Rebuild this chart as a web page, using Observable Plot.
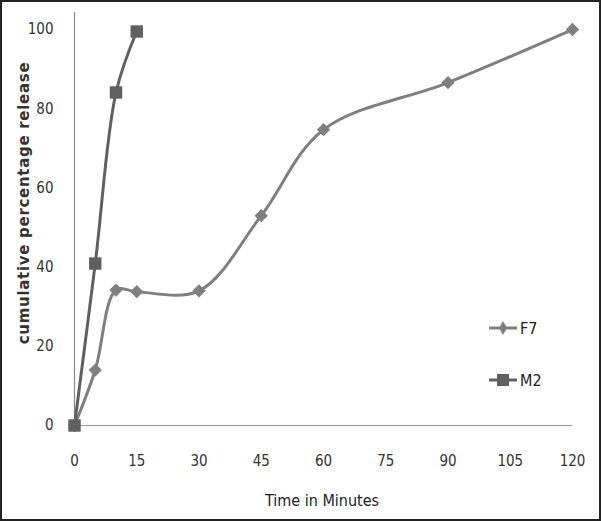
<!DOCTYPE html>
<html>
<head>
<meta charset="utf-8">
<script src="https://cdn.jsdelivr.net/npm/d3@7"></script>
<script src="https://cdn.jsdelivr.net/npm/@observablehq/plot@0.6"></script>
<style>
  html, body { margin: 0; padding: 0; background: #fff; }
  #wrap { position: relative; width: 601px; height: 521px; overflow: hidden; }
  #frame { position: absolute; left: 0; top: 0; width: 601px; height: 521px; box-sizing: border-box; border: 2px solid #222; pointer-events: none; }
  .narrow { font-family: "Liberation Sans Narrow", "DejaVu Sans Condensed", "Roboto Condensed", sans-serif; }
  #ylab { position: absolute; left: 24px; top: 203px; transform: translate(-50%, -50%) rotate(-90deg); white-space: nowrap;
          font-family: "DejaVu Sans", sans-serif; font-weight: bold; font-size: 15px; letter-spacing: 0.7px; color: #333; }
  #xlab { position: absolute; left: 322px; top: 500px; transform: translate(-50%, -50%); white-space: nowrap; font-size: 16px; color: #222; }
  #legend { position: absolute; left: 488px; top: 316px; font-size: 16px; color: #222; }
  #legend .item { display: flex; align-items: center; height: 24px; margin-bottom: 28px; }
  #legend svg { margin-right: 2px; }
</style>
</head>
<body>
<div id="wrap">
  <div id="chart"></div>
  <div id="ylab">cumulative percentage release</div>
  <div id="xlab" class="narrow">Time in Minutes</div>
  <div id="legend" class="narrow"></div>
  <div id="frame"></div>
</div>
<script>
const timesF7 = [0, 5, 10, 15, 30, 45, 60, 90, 120];
const releaseF7 = [0, 14, 34.2, 33.8, 34, 53, 74.7, 86.6, 100];
const timesM2 = [0, 5, 10, 15];
const releaseM2 = [0, 40.9, 84.1, 99.5];
const xTicks = [0, 15, 30, 45, 60, 75, 90, 105, 120];
const yTicks = [0, 20, 40, 60, 80, 100];
const seriesNames = ["F7", "M2"];
const seriesColors = {F7: "#7f7f7f", M2: "#606060"};

const f7 = timesF7.map((t, i) => ({series: "F7", t, v: releaseF7[i]}));
const m2 = timesM2.map((t, i) => ({series: "M2", t, v: releaseM2[i]}));

const chart = Plot.plot({
  width: 601,
  height: 521,
  marginLeft: 74,
  marginRight: 29,
  marginTop: 12,
  marginBottom: 96,
  style: {fontFamily: '"Liberation Sans Narrow", "DejaVu Sans Condensed", sans-serif', fontSize: "15px", color: "#333", background: "#fff"},
  x: {domain: [0, 120]},
  y: {domain: [0, 104.3]},
  marks: [
    Plot.axisX({ticks: xTicks, tickSize: 0, tickPadding: 30, label: null, fontSize: 15}),
    Plot.axisY({ticks: yTicks, tickSize: 0, tickPadding: 21, label: null, fontSize: 15}),
    Plot.ruleY([0], {stroke: "#999", strokeWidth: 1.2}),
    Plot.ruleX([0], {y1: 0, y2: 104.3, stroke: "#888", strokeWidth: 1.2}),
    Plot.line(f7, {x: "t", y: "v", curve: "catmull-rom", stroke: seriesColors.F7, strokeWidth: 3}),
    Plot.line(m2, {x: "t", y: "v", curve: "catmull-rom", stroke: seriesColors.M2, strokeWidth: 3}),
    Plot.dot(f7, {x: "t", y: "v", symbol: "diamond2", r: 6, fill: seriesColors.F7, stroke: "none"}),
    Plot.dot(m2, {x: "t", y: "v", symbol: "square", r: 7, fill: seriesColors.M2, stroke: "none"})
  ]
});
document.getElementById("chart").appendChild(chart);

// legend
const legend = document.getElementById("legend");
seriesNames.forEach(name => {
  const item = document.createElement("div");
  item.className = "item";
  const sym = name === "F7"
    ? `<path d="M15,5 L19,12 L15,19 L11,12 Z" fill="${seriesColors[name]}"/>`
    : `<rect x="9" y="6" width="12" height="12" fill="${seriesColors[name]}"/>`;
  item.innerHTML = `<svg width="30" height="24"><line x1="1" x2="29" y1="12" y2="12" stroke="${seriesColors[name]}" stroke-width="3"/>${sym}</svg><span>${name}</span>`;
  legend.appendChild(item);
});
</script>
</body>
</html>
